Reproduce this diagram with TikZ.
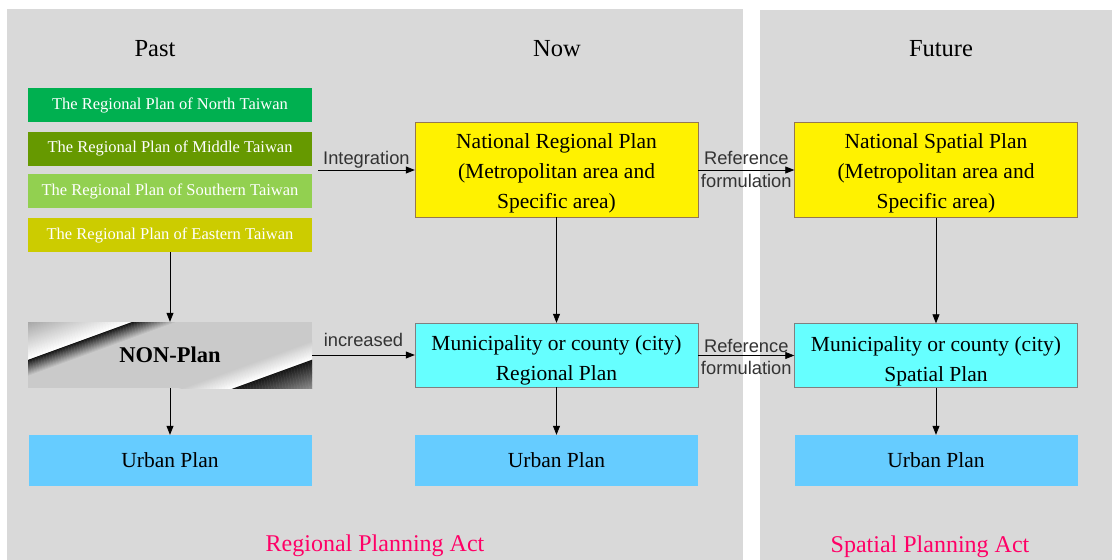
\documentclass[tikz,border=0pt]{standalone}
\usepackage{fontspec}
\setmainfont{Liberation Serif}
\newfontfamily\labelfont{Liberation Sans}
\usetikzlibrary{positioning,arrows.meta}
\definecolor{panelgray}{RGB}{217,217,217}
\definecolor{northgreen}{RGB}{0,176,80}
\definecolor{middlegreen}{RGB}{102,153,0}
\definecolor{southgreen}{RGB}{146,208,80}
\definecolor{eastyellow}{RGB}{204,204,0}
\definecolor{urbanblue}{RGB}{102,204,255}
\definecolor{plancyan}{RGB}{102,255,255}
\definecolor{actpink}{RGB}{255,0,102}
\definecolor{yellowedge}{RGB}{150,120,80}
\definecolor{nonplangray}{RGB}{202,202,202}

\begin{document}
\begin{tikzpicture}[x=1pt,y=-1pt,
  region/.style={fill=#1,text=white,minimum width=284pt,minimum height=34pt,inner sep=0pt,font=\fontsize{16.5}{19}\selectfont},
  plan/.style={fill=#1,minimum width=283pt,inner sep=0pt,align=center,font=\fontsize{21.5}{30}\selectfont},
  title/.style={font=\fontsize{24.5}{28}\selectfont},
  act/.style={text=actpink,font=\fontsize{24}{28}\selectfont},
  arr/.style={-{Triangle[length=9pt,width=7pt]},line width=0.8pt},
  lab/.style={font=\labelfont\fontsize{18.3}{22}\selectfont,text=black!80,inner sep=#1},
  lab/.default=3pt]
\useasboundingbox (0,0) rectangle (1112,560);
\fill[white] (0,0) rectangle (1112,560);
\fill[panelgray] (7,9) rectangle (743,560);
\fill[panelgray] (760,10) rectangle (1112,560);

\node[title] (past) at (155,49) {Past};
\node[title] (now) at (557,49) {Now};
\node[title] (future) at (941,49) {Future};

\foreach \name/\col/\y/\txt in {north/northgreen/104/North,middle/middlegreen/147.5/Middle,south/southgreen/190/Southern,east/eastyellow/234/Eastern}
{
\node[region=\col] (\name) at (170,\y+1) {The Regional Plan of \txt\ Taiwan};
}

\begin{scope}
\clip (28,322) rectangle (312,388);
\fill[nonplangray] (28,322) rectangle (312,388);
\begin{scope}[shift={(170,355)},rotate=20]
\foreach \i in {0,...,35}
{
\pgfmathsetmacro\c{\i*100/35}
\fill[white!\c!gray!70!white] (-200,-80+\i) rectangle (200,-78.7+\i);
}
\foreach \i in {0,...,15}
{
\pgfmathsetmacro\c{90-\i*90/15}
\fill[black!\c!nonplangray] (-200,-44+\i) rectangle (200,-42.7+\i);
}
\foreach \i in {0,...,17}
{
\pgfmathsetmacro\c{\i*100/17}
\fill[white!\c!nonplangray] (-200,35+\i) rectangle (200,36.3+\i);
}
\foreach \i in {0,...,27}
{
\pgfmathsetmacro\c{90-\i*60/27}
\fill[black!\c!nonplangray] (-200,53+\i) rectangle (200,54.3+\i);
}
\end{scope}
\end{scope}
\node[minimum width=284pt,minimum height=66pt,inner sep=0pt,
  font=\fontsize{22.5}{26}\selectfont\bfseries] (nonplan) at (170,355) {NON-Plan};

\node[plan=yellow,draw=yellowedge,minimum height=95pt,text height=77pt,text depth=0pt] (nrp) at (556.5,169.5) {National Regional Plan\\(Metropolitan area and\\Specific area)};
\node[plan=yellow,draw=yellowedge,minimum height=95pt,text height=77pt,text depth=0pt] (nsp) at (936,170) {National Spatial Plan\\(Metropolitan area and\\Specific area)};
\node[plan=plancyan,draw=gray,minimum height=64pt,text height=51pt,text depth=0pt] (mun1) at (556.5,355) {Municipality or county (city)\\Regional Plan};
\node[plan=plancyan,draw=gray,minimum height=64pt,text height=51pt,text depth=0pt] (mun2) at (936,355.5) {Municipality or county (city)\\Spatial Plan};

\node[plan=urbanblue,minimum height=51pt] (urban1) at (170,460.5) {Urban Plan};
\node[plan=urbanblue,minimum height=51pt] (urban2) at (556.5,460.5) {Urban Plan};
\node[plan=urbanblue,minimum height=51pt] (urban3) at (936,460.5) {Urban Plan};

\coordinate (intg) at (318,170);
\draw[arr] (intg) -- node[lab=1pt,above] {Integration} (intg -| nrp.west);
\draw[arr] (nonplan) -- node[lab=8pt,above] {increased} (mun1);
\draw[arr] (nrp.east |- nsp) -- node[lab=4.5pt,above] {Reference} node[lab=4pt,below] {formulation} (nsp);
\draw[arr] (mun1.east |- mun2) -- node[lab=2.5pt,above] {Reference} node[lab=5pt,below] {formulation} (mun2);

\draw[arr] (east) -- (nonplan);
\draw[arr] (nonplan) -- (urban1);
\draw[arr] (nrp) -- (mun1);
\draw[arr] (mun1) -- (urban2);
\draw[arr] (nsp) -- (mun2);
\draw[arr] (mun2) -- (urban3);

\node[act] (rpa) at (375,546) {Regional Planning Act};
\node[act] (spa) at (930,547) {Spatial Planning Act};
\end{tikzpicture}
\end{document}
